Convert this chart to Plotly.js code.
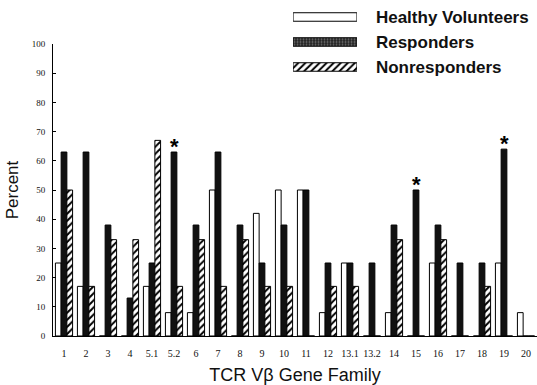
<!DOCTYPE html>
<html>
<head>
<meta charset="utf-8">
<script src="https://cdn.plot.ly/plotly-3.0.1.min.js"></script>
<style>html,body{margin:0;padding:0;background:#fff;}#chart{width:537px;height:385px;}</style>
</head>
<body>
<div id="chart"></div>
<script>
// Data
var families = ['1','2','3','4','5.1','5.2','6','7','8','9','10','11','12','13.1','13.2','14','15','16','17','18','19','20'];
var healthy =      [25, 17, 0, 0, 17, 8, 8, 50, 0, 42, 50, 50, 8, 25, 0, 8, 0, 25, 0, 0, 25, 8];
var responders =   [63, 63, 38, 13, 25, 63, 38, 63, 38, 25, 38, 50, 25, 25, 25, 38, 50, 38, 25, 25, 64, 0];
var nonresponders =[50, 17, 33, 33, 67, 17, 33, 17, 33, 17, 17, 0, 17, 17, 0, 33, 0, 33, 0, 17, 0, 0];
var seriesNames = ['Healthy Volunteers', 'Responders', 'Nonresponders'];
var significant = ['5.2', '15', '19'];
var yTicks = [0, 10, 20, 30, 40, 50, 60, 70, 80, 90, 100];

var serif = 'Liberation Serif, Times New Roman, serif';
var sans = 'Liberation Sans, Arial, sans-serif';

var lineStyle = {color: '#000', width: 1};
var hatch = {shape: '/', fgcolor: '#000', bgcolor: '#fff', size: 5, solidity: 0.4};
var stipple = {shape: '.', fgcolor: '#7a7a7a', bgcolor: '#232323', size: 3, solidity: 0.3};

var markers = [
  {color: '#fff', line: lineStyle},
  {color: '#111', line: lineStyle},
  {color: '#fff', pattern: hatch, line: lineStyle}
];
var legendMarkers = [
  {color: '#fff', line: lineStyle},
  {color: '#232323', pattern: stipple, line: lineStyle},
  {color: '#fff', pattern: hatch, line: lineStyle}
];
var values = [healthy, responders, nonresponders];

var traces = [];
values.forEach(function(v, i){
  traces.push({type: 'bar', name: seriesNames[i], x: families, y: v,
               marker: markers[i], showlegend: false, hoverinfo: 'x+y'});
});
// legend swatches: a small bar chart whose categories are the series names
seriesNames.forEach(function(n, i){
  traces.push({type: 'bar', orientation: 'h', x: [1], y: [n], xaxis: 'x2', yaxis: 'y2',
               width: 0.34, offset: -0.17, showlegend: false, hoverinfo: 'skip',
               marker: legendMarkers[i]});
});

var annotations = significant.map(function(c){
  var idx = families.indexOf(c);
  return {xref: 'x', yref: 'y', x: idx, y: responders[idx], text: '*',
          showarrow: false, yanchor: 'bottom', yshift: -9,
          font: {family: sans, size: 22, color: '#000', weight: 'bold'}};
});

var layout = {
  width: 537, height: 385,
  margin: {l: 53, r: 0, t: 4, b: 49, pad: 0},
  paper_bgcolor: '#fff', plot_bgcolor: '#fff',
  barmode: 'group', bargap: 0.22, bargroupgap: 0,
  showlegend: false,
  xaxis: {type: 'category', range: [-0.5, 21.5], domain: [0, 1], anchor: 'y',
          showline: true, linecolor: '#000', linewidth: 1, ticks: '', showgrid: false, zeroline: false,
          tickfont: {family: serif, size: 10, color: '#111'}, ticklabelstandoff: 8,
          automargin: false,
          title: {text: 'TCR V\u03b2 Gene Family', font: {family: sans, size: 18, color: '#111'}, standoff: 11}},
  yaxis: {domain: [0, 0.8795], range: [0, 100], tickvals: yTicks, anchor: 'x',
          showline: true, linecolor: '#000', linewidth: 1, ticks: 'inside', ticklen: 3, tickcolor: '#000',
          showgrid: false, zeroline: false, automargin: false,
          tickfont: {family: serif, size: 9, color: '#111'}, ticklabelstandoff: 5,
          title: {text: 'Percent', font: {family: sans, size: 17, color: '#111'}, standoff: 8}},
  xaxis2: {domain: [0.496, 0.628], anchor: 'y2', range: [0, 1], visible: false, fixedrange: true},
  yaxis2: {domain: [0.7726, 0.9985], anchor: 'x2', type: 'category', autorange: 'reversed',
           side: 'right', showline: false, ticks: '', showgrid: false, zeroline: false, automargin: false,
           tickfont: {family: sans, size: 17, color: '#111', weight: 'bold'}, ticklabelstandoff: 18},
  annotations: annotations
};

Plotly.newPlot('chart', traces, layout, {displayModeBar: false, staticPlot: true});
</script>
</body>
</html>
